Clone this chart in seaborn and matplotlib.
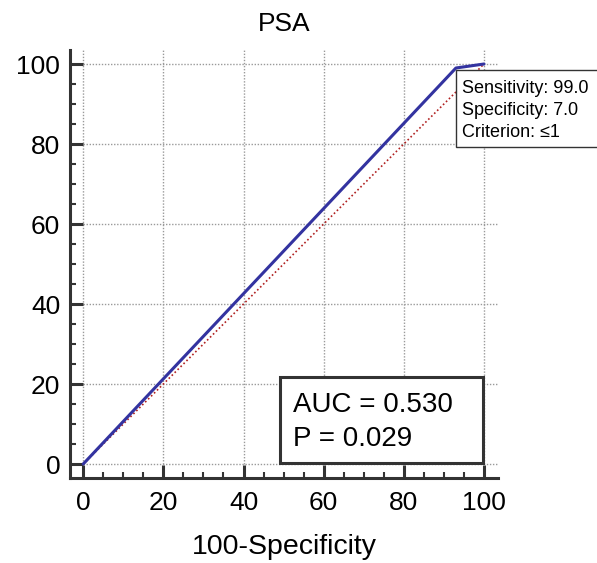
import matplotlib
matplotlib.use("Agg")
import matplotlib.pyplot as plt
import seaborn as sns
import pandas as pd
from matplotlib.patches import Rectangle
from matplotlib.ticker import MultipleLocator

# ---- data ----
fpr = [0, 93, 100]          # 100-Specificity
tpr = [0, 99, 100]          # Sensitivity
diag = [0, 100]
ticks = [0, 20, 40, 60, 80, 100]
title = "PSA"
xlabel = "100-Specificity"
auc_lines = ["AUC = 0.530", "P = 0.029"]
point_lines = ["Sensitivity: 99.0", "Specificity: 7.0", "Criterion: \u22641"]

sns.set_theme(style="white")
plt.rcParams['font.family'] = ['Liberation Sans', 'DejaVu Sans']
plt.rcParams['text.color'] = 'black'

fig = plt.figure(figsize=(5.97, 5.63), dpi=100)
ax = fig.add_axes([70/597, 1-478/563, 428/597, 428/563])

XL, XR = -3.3, 103.5
YB, YT = -3.5, 103.5
ax.set_xlim(XL, XR)
ax.set_ylim(YB, YT)

# grid
gc = "#9a9a9a"
ax.vlines(ticks, 0, YT, colors=gc, linestyles=(0, (1, 1.2)), lw=1.0, zorder=0)
ax.hlines(ticks, 0, XR, colors=gc, linestyles=(0, (1, 1.2)), lw=1.0, zorder=0)

# diagonal
ddf = pd.DataFrame({"x": diag, "y": diag})
sns.lineplot(data=ddf, x="x", y="y", ax=ax, color="#b02020",
             linestyle=(0, (1, 1.5)), lw=1.2, zorder=2)

# ROC
rdf = pd.DataFrame({"x": fpr, "y": tpr})
sns.lineplot(data=rdf, x="x", y="y", ax=ax, color="#3333a0", lw=2.2,
             sort=False, zorder=3, clip_on=False)

for s in ["top", "right"]:
    ax.spines[s].set_visible(False)
for s in ["left", "bottom"]:
    ax.spines[s].set_color("#333333")
    ax.spines[s].set_linewidth(2.2)

ax.set_xticks(ticks)
ax.set_yticks(ticks)
ax.xaxis.set_minor_locator(MultipleLocator(5))
ax.yaxis.set_minor_locator(MultipleLocator(5))
ax.tick_params(which="major", direction="in", length=9.4, width=2.2,
               color="#333333", labelsize=19, labelcolor="black")
ax.tick_params(which="minor", direction="in", length=4.5, width=1.5,
               color="#333333")
ax.tick_params(axis="x", which="major", pad=9, bottom=True)
ax.tick_params(axis="y", which="major", pad=7, left=True)
ax.tick_params(axis="x", which="minor", bottom=True)
ax.tick_params(axis="y", which="minor", left=True)

ax.set_xlabel(xlabel, fontsize=20.5, labelpad=14, color="black")
ax.set_ylabel("")
ax.set_title(title, fontsize=19, pad=14, color="black")

# AUC box
ax.add_patch(Rectangle((49.2, 0.25), 50.6, 21.5, fill=True, facecolor="white",
                       edgecolor="#333333", lw=2.2, zorder=5, clip_on=False))
ax.text(52.4, 13.0, auc_lines[0], fontsize=20, va="baseline", ha="left",
        color="black", zorder=6)
ax.text(52.4, 4.5, auc_lines[1], fontsize=20, va="baseline", ha="left",
        color="black", zorder=6)

# point info box
ax.add_patch(Rectangle((93, 79.2), 40, 19.3, fill=True, facecolor="white",
                       edgecolor="#333333", lw=1.0, zorder=5, clip_on=False))
for txt, yb in zip(point_lines, [92.75, 87.25, 81.75]):
    ax.text(94.6, yb, txt, fontsize=13, va="baseline", ha="left", zorder=6,
            color="black", clip_on=False)

fig.savefig("out.png", dpi=100)
